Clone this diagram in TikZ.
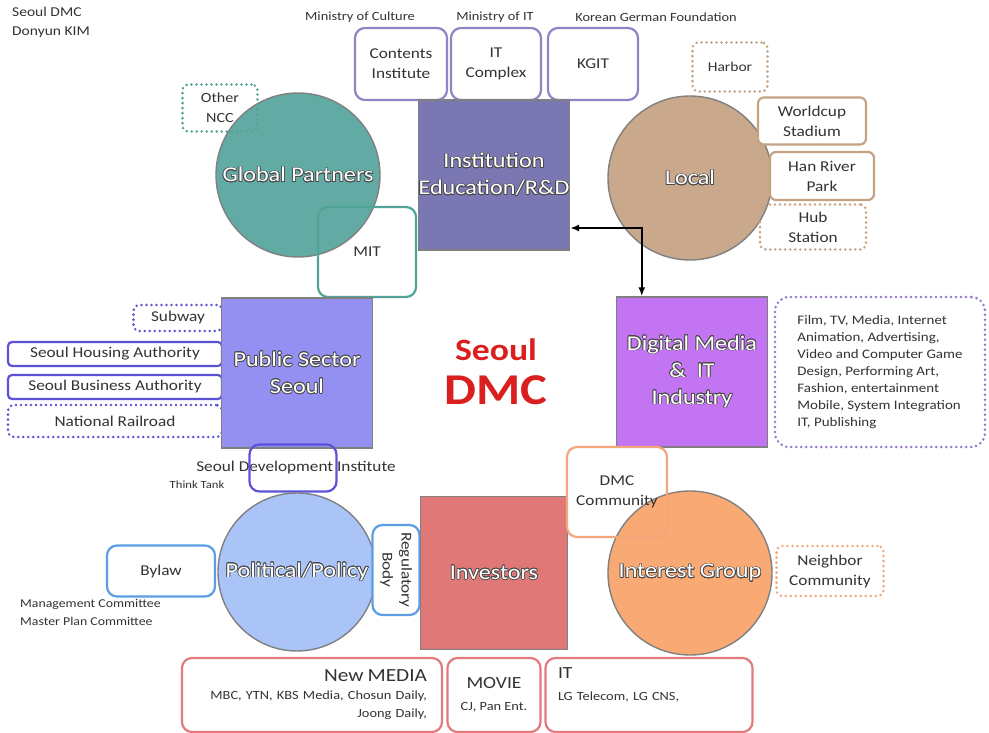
\documentclass[tikz,border=0pt]{standalone}
\usepackage{fontspec}
\setmainfont{Carlito}[FakeStretch=1.15]
\usepackage{contour}
\contourlength{0.7pt}
\usetikzlibrary{calc,arrows.meta}

\definecolor{edgegray}{HTML}{808080}
\definecolor{txtgray}{HTML}{333333}
\definecolor{instfill}{HTML}{7B77B3}
\definecolor{instline}{HTML}{8E84C6}
\definecolor{globfill}{HTML}{62AAA4}
\definecolor{globline}{HTML}{4FA397}
\definecolor{locfill}{HTML}{C9A88B}
\definecolor{locline}{HTML}{C4A283}
\definecolor{pubfill}{HTML}{9490F2}
\definecolor{publine}{HTML}{5B52D8}
\definecolor{digfill}{HTML}{C274F2}
\definecolor{digline}{HTML}{9374D2}
\definecolor{polfill}{HTML}{AAC4F8}
\definecolor{polline}{HTML}{5D9DE2}
\definecolor{invfill}{HTML}{E07878}
\definecolor{invline}{HTML}{E27A7E}
\definecolor{intfill}{HTML}{F9A974}
\definecolor{intline}{HTML}{F2A67A}
\definecolor{dmcred}{HTML}{D9201F}
\definecolor{shadowgray}{HTML}{4A4A4A}

\newcommand{\shd}[1]{\contour{shadowgray}{#1}}

\begin{document}
\begin{tikzpicture}[x=1pt,y=-1pt,
  sq/.style={draw=edgegray,line width=1.4pt,fill=#1,minimum width=150pt,minimum height=150pt,inner sep=0pt,text=white,align=center,font=\fontsize{21}{27}\selectfont},
  disc/.style={circle,draw=edgegray,line width=1.4pt,fill=#1,minimum size=164pt,inner sep=0pt,text=white,font=\fontsize{21}{27}\selectfont},
  box/.style={draw=#1,line width=2.2pt,rounded corners=10pt,inner sep=0pt,align=center,text=txtgray,font=\fontsize{15}{20}\selectfont},
  dbox/.style={draw=#1,line width=2.8pt,dash pattern=on 0pt off 5pt,line cap=round,rounded corners=6pt,inner sep=0pt,align=center,text=txtgray,font=\fontsize{15}{20}\selectfont},
  note/.style={inner sep=0pt,text=txtgray,font=\fontsize{12.5}{18}\selectfont},
  link/.style={{Latex[length=9pt,width=7pt]}-{Latex[length=9pt,width=7pt]},line width=1.8pt},
  ]
\useasboundingbox[fill=white] (0,0) rectangle (989,733);

\node[note,anchor=north west,align=left,font=\fontsize{13.5}{19}\selectfont] (author) at (12,7) {Seoul DMC\\Donyun KIM};
\node[note] (mcul) at (360,17) {Ministry of Culture};
\node[note] (mit) at (495,17) {Ministry of IT};
\node[note] (kgf) at (656,17) {Korean German Foundation};

\node[box=instline,minimum width=92pt,minimum height=72pt] (cont) at (401,64) {Contents\\Institute};
\node[box=instline,minimum width=90pt,minimum height=72pt] (itc) at (496,64) {IT\\Complex};
\node[box=instline,minimum width=90pt,minimum height=72pt] (kgit) at (593,64) {KGIT};
\node[sq=instfill,minimum width=148pt] (inst) at (494,175) {\shd{Institution}\\\shd{Education/R\&D}};

\node[disc=globfill] (glob) at (298,175) {\shd{Global Partners}};
\node[dbox=globline,minimum width=75pt,minimum height=47pt,font=\fontsize{14}{20}\selectfont] (ncc) at (220,108) {Other\\NCC};
\node[box=globline,minimum width=98pt,minimum height=90pt] (mitb) at (367,252) {MIT};

\node[disc=locfill] (loc) at (690,178) {\shd{Local}};
\node[dbox=locline,minimum width=75pt,minimum height=49pt,font=\fontsize{13.5}{20}\selectfont] (harb) at (730,67) {Harbor};
\node[box=locline,fill=white,minimum width=108pt,minimum height=47pt,rounded corners=6pt] (wcup) at (812,121) {Worldcup\\Stadium};
\node[box=locline,fill=white,minimum width=104pt,minimum height=48pt,rounded corners=6pt] (hanr) at (822,176) {Han River\\Park};
\node[dbox=locline,minimum width=106pt,minimum height=45pt] (hub) at (813,227) {Hub\\Station};

\node[dbox=publine,minimum width=89pt,minimum height=26pt] (subw) at (178,318) {Subway};
\node[box=publine,minimum width=214pt,minimum height=24pt,rounded corners=4pt] (sha) at (115,354) {Seoul Housing Authority};
\node[box=publine,minimum width=214pt,minimum height=24pt,rounded corners=4pt] (sba) at (115,387) {Seoul Business Authority};
\node[dbox=publine,minimum width=214pt,minimum height=32pt] (nrail) at (115,421) {National Railroad};
\node[sq=pubfill,minimum width=151pt] (pub) at (297,373) {\shd{Public Sector}\\\shd{Seoul}};

\node[text=dmcred,font=\bfseries\fontsize{31}{36}\selectfont] (seoul) at (496,350) {Seoul};
\node[text=dmcred,font=\bfseries\fontsize{44}{48}\selectfont] (dmc) at (496,390) {DMC};

\node[sq=digfill,minimum width=151pt] (dig) at (692,372) {\shd{Digital Media}\\\shd{\&\ \ IT}\\\shd{Industry}};
\node[dbox=digline,minimum width=210pt,minimum height=150pt,rounded corners=14pt,align=left,font=\fontsize{13}{17}\selectfont] (inds) at (880,372) {Film, TV, Media, Internet\\Animation, Advertising,\\Video and Computer Game\\Design, Performing Art,\\Fashion, entertainment\\Mobile, System Integration\\IT, Publishing};

\draw[link] ([yshift=-53pt]inst.east) -| ([xshift=26pt]dig.north west);

\node[note,font=\fontsize{15}{18}\selectfont] (sdit) at (296,467) {Seoul Development Institute};
\node[note,font=\fontsize{11}{14}\selectfont] (tank) at (197,485) {Think Tank};
\node[box=publine,minimum width=87pt,minimum height=47pt] (sdi) at (293,468) {};

\node[disc=polfill,minimum size=158pt] (pol) at (297,572) {\shd{Political/Policy}};
\node[box=polline,minimum width=108pt,minimum height=51pt] (bylaw) at (161,571) {Bylaw};
\node[note,anchor=north west,align=left,font=\fontsize{12}{18}\selectfont] (cmte) at (20,599) {Management Committee\\Master Plan Committee};
\node[box=polline,fill=white,rotate=-90,minimum width=90pt,minimum height=47pt,font=\fontsize{15}{19}\selectfont] (reg) at (396,570) {Regulatory\\Body};

\node[sq=invfill,minimum width=147pt,minimum height=153pt] (inv) at (494,573) {\shd{Investors}};
\node[disc=intfill] (intg) at (690,573) {\shd{Interest Group}};
\node[box=intline,minimum width=100pt,minimum height=90pt] (dmcc) at (617,492) {DMC\\Community};
\node[dbox=intline,minimum width=107pt,minimum height=50pt] (nbr) at (830,571) {Neighbor\\Community};

\node[box=invline,minimum width=260pt,minimum height=74pt,text width=230pt,align=right,font=\fontsize{12.5}{18}\selectfont] (nmed) at (312,695) {{\fontsize{18.5}{20}\selectfont New MEDIA}\\MBC, YTN, KBS Media, Chosun Daily,\\Joong Daily,};
\node[box=invline,minimum width=93pt,minimum height=74pt,font=\fontsize{12.5}{18}\selectfont] (movie) at (494,695) {{\fontsize{17}{20}\selectfont MOVIE}\\[4pt]CJ, Pan Ent.};
\node[box=invline,minimum width=207pt,minimum height=74pt,text width=182pt,align=left,font=\fontsize{12.5}{22}\selectfont] (itb) at (649,695) {{\fontsize{17}{20}\selectfont IT}\\LG Telecom, LG CNS,\\\mbox{}};
\end{tikzpicture}
\end{document}
